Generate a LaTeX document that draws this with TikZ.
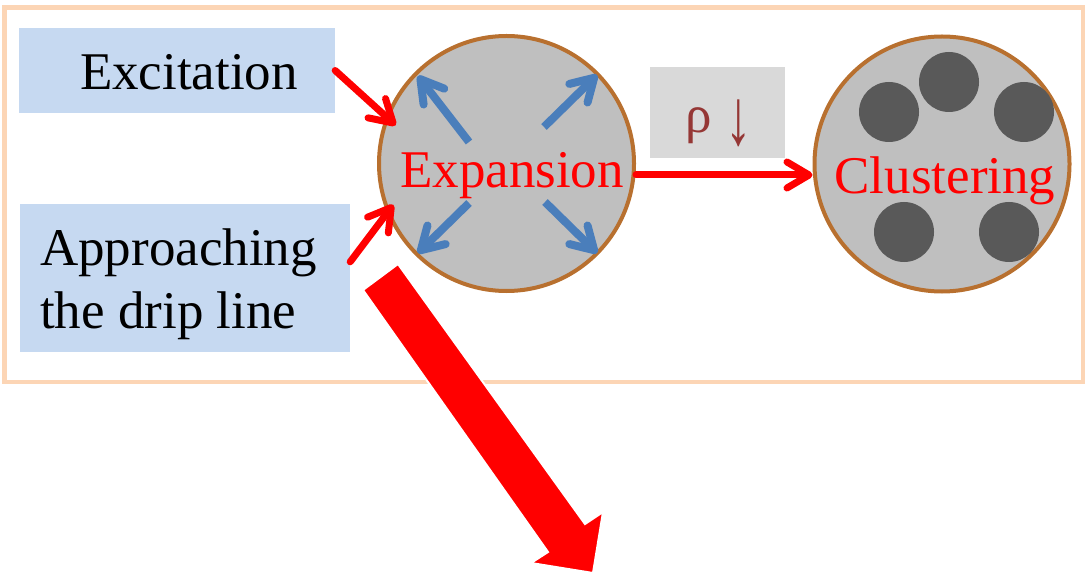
\documentclass[tikz,border=0pt]{standalone}
\usepackage{fontspec}
\usepackage{graphicx}
\setmainfont{Liberation Serif}
\usetikzlibrary{arrows.meta,calc}
\definecolor{framec}{HTML}{FCD5B5}
\definecolor{boxc}{HTML}{C6D9F1}
\definecolor{circc}{HTML}{BFBFBF}
\definecolor{rimc}{HTML}{B8702F}
\definecolor{bluec}{HTML}{4A7EBB}
\definecolor{dotc}{HTML}{595959}
\definecolor{rhobg}{HTML}{D9D9D9}
\definecolor{rhoc}{HTML}{953735}
\tikzset{
  bigtext/.style={font=\fontsize{53}{63}\selectfont, inner sep=0pt},
  labelbox/.style={rectangle, fill=boxc, inner sep=0pt},
  phase/.style={circle, draw=rimc, fill=circc, line width=4pt, minimum size=255pt, inner sep=0pt},
  cluster/.style={circle, fill=dotc, minimum size=60pt, inner sep=0pt},
  redarrow/.style={draw=red, line width=7pt, line cap=round, -{Straight Barb[length=22pt,width=26pt,round]}},
  bluearrow/.style={draw=bluec, line width=8pt, -{Straight Barb[length=22pt,width=26pt,round]}},
}
\begin{document}
\begin{tikzpicture}[x=1pt,y=-1pt]
\useasboundingbox (0,0) rectangle (1086,577);
% frame
\draw[framec, line width=4.5pt] (4.5,7.5) rectangle (1083,382);
% left boxes
\node[labelbox, minimum width=316pt, minimum height=85pt] (exbox) at (177,70.5) {};
\node[bigtext, anchor=base] (extext) at (189,90) {Excitation};
\node[labelbox, minimum width=330pt, minimum height=148pt] (abox) at (185,278) {};
\node[bigtext, anchor=base west, align=left] (atext) at (40,328) {Approaching\\the drip line};
% circles
\node[phase] (E) at (506.5,163.5) {};
\node[phase] (C) at (942,164) {};
% clusters
\node[cluster] (c1) at (889,112) {};
\node[cluster] (c2) at (949,82) {};
\node[cluster] (c3) at (1024,112) {};
\node[cluster] (c4) at (904,232) {};
\node[cluster] (c5) at (1009,232) {};
% texts in circles
\node[bigtext, anchor=base, text=red] (etext) at (512,188) {Expansion};
\node[bigtext, anchor=base, text=red] (ctext) at (945,194) {Clustering};
% rho box
\node[rectangle, fill=rhobg, minimum width=135pt, minimum height=91pt, inner sep=0pt] (rhobox) at (717.5,112.5) {};
\node[bigtext, anchor=base, text=rhoc] (rho) at (719,133) {ρ \raisebox{-12pt}{\scalebox{1}[1.5]{↓}}};
% blue expansion arrows
\coordinate (b1s) at (469,142); \coordinate (b1t) at (418,76);
\coordinate (b2s) at (544,127); \coordinate (b2t) at (597,75);
\coordinate (b3s) at (469,203); \coordinate (b3t) at (418,253);
\coordinate (b4s) at (545,202); \coordinate (b4t) at (597,253);
\draw[bluearrow] (b1s) -- (b1t);
\draw[bluearrow] (b2s) -- (b2t);
\draw[bluearrow] (b3s) -- (b3t);
\draw[bluearrow] (b4s) -- (b4t);
% red connectors
\draw[redarrow] (exbox.east) -- ($(E.center)!0.905!(E.161)$);
\draw[redarrow] ([yshift=-58pt]abox.north east) -- ($(E.center)!0.93!(E.200)$);
\draw[redarrow] ([yshift=-11.5pt]E.east) -- ([yshift=-11pt]C.west);
% big block arrow
\fill[red, draw=white, line width=2pt] (363,290) -- (398,264) -- (585,524) -- (603,512) -- (593,573) -- (531,563) -- (548,552) -- cycle;
\end{tikzpicture}
\end{document}
